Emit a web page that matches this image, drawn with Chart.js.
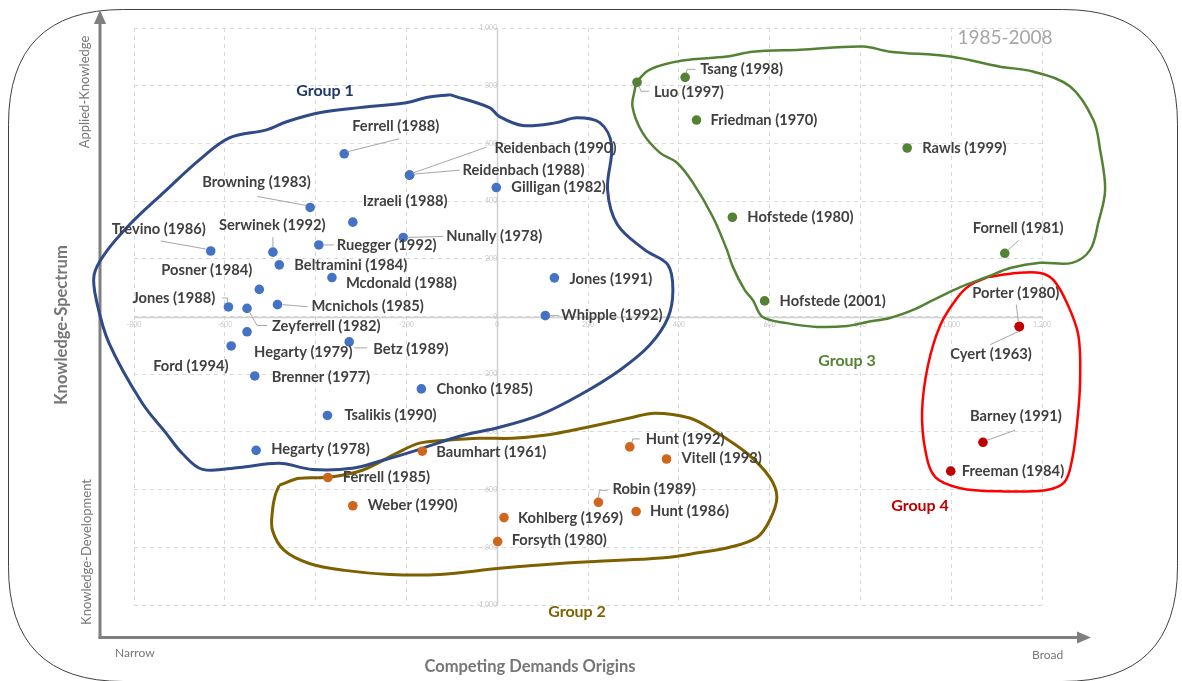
<!DOCTYPE html>
<html><head><meta charset="utf-8">
<script src="https://cdn.jsdelivr.net/npm/chart.js@4/dist/chart.umd.min.js"></script>
<style>html,body{margin:0;padding:0;background:#fff}#wrap{width:1182px;height:681px;position:relative}</style>
</head><body><div id="wrap"><canvas id="c" width="1182" height="681"></canvas></div>
<script>
// ---------- DATA ----------
const xRange = [-800, 1200];
const yRange = [-1000, 1000];
const tickStep = 200;

const g1Names = ["Ferrell (1988)","Reidenbach (1990)","Reidenbach (1988)","Gilligan (1982)","Browning (1983)","Izraeli (1988)","Trevino (1986)","Serwinek (1992)","Ruegger (1992)","Nunally (1978)","Beltramini (1984)","Mcdonald (1988)","Posner (1984)","Jones (1988)","Zeyferrell (1982)","Mcnichols (1985)","Hegarty (1979)","Ford (1994)","Betz (1989)","Brenner (1977)","Chonko (1985)","Tsalikis (1990)","Hegarty (1978)","Jones (1991)","Whipple (1992)"];
const g1X = [-337,-193,-193,-2,-412,-318,-631,-494,-393,-207,-480,-364,-524,-592,-551,-484,-551,-586,-326,-534,-167,-374,-531,126,106];
const g1Y = [564,490,490,447,378,327,227,223,248,274,179,135,94,33,28,41,-53,-102,-88,-206,-251,-343,-464,134,3];

const g2Names = ["Baumhart (1961)","Ferrell (1985)","Weber (1990)","Hunt (1992)","Vitell (1993)","Robin (1989)","Hunt (1986)","Kohlberg (1969)","Forsyth (1980)"];
const g2X = [-165,-373,-318,292,373,223,306,15,1];
const g2Y = [-467,-558,-656,-452,-494,-644,-676,-697,-780];

const g3Names = ["Tsang (1998)","Luo (1997)","Friedman (1970)","Rawls (1999)","Hofstede (1980)","Fornell (1981)","Hofstede (2001)"];
const g3X = [414,308,439,903,518,1118,589];
const g3Y = [829,812,681,584,344,219,54];

const g4Names = ["Porter (1980)","Cyert (1963)","Barney (1991)","Freeman (1984)"];
const g4X = [1150,1150,1070,999];
const g4Y = [-35,-35,-436,-536];

// hand-drawn group outlines (data units)
const g1OutlineX = [-105,-17,5,56,131,175,226,252,243,265,325,376,387,376,336,270,181,93,5,-83,-178,-253,-319,-407,-480,-568,-649,-694,-729,-782,-855,-883,-888,-866,-810,-733,-656,-590,-508,-464,-392,-304,-200,-156];
const g1OutlineY = [769,724,693,662,672,689,672,595,440,318,231,179,92,-5,-99,-186,-273,-342,-384,-415,-464,-499,-526,-530,-509,-523,-530,-474,-405,-300,-92,57,144,214,318,432,543,619,647,675,706,724,741,759];

const g2OutlineX = [-480,-436,-370,-297,-222,-171,-112,-39,34,109,166,219,292,347,424,475,550,600,616,600,572,512,446,374,270,137,5,-127,-237,-336,-414,-469,-495,-495,-489];
const g2OutlineY = [-585,-561,-557,-533,-474,-439,-429,-422,-422,-411,-394,-377,-352,-335,-352,-394,-474,-557,-627,-707,-766,-800,-818,-835,-845,-856,-873,-894,-894,-880,-856,-811,-741,-672,-620];

const g3OutlineX = [307,336,408,506,563,667,806,865,998,1108,1180,1262,1313,1328,1339,1324,1306,1266,1196,1130,1079,1020,960,916,865,815,771,704,638,585,563,545,519,506,475,431,396,358,320,298,303];
const g3OutlineY = [814,856,887,901,918,925,936,918,901,866,849,797,682,578,439,325,231,186,186,168,137,102,57,23,-5,-19,-33,-36,-23,-2,57,92,172,231,345,464,533,568,637,727,786];

const g4OutlineX = [1081,1145,1196,1225,1255,1280,1284,1278,1266,1249,1207,1108,1020,965,943,936,949,976,1013,1042];
const g4OutlineY = [137,151,151,127,47,-64,-220,-359,-498,-575,-602,-606,-595,-557,-464,-325,-168,-30,64,109];

// ---------- LABEL PLACEMENT (pixels, relative to each dot) ----------
const g1LabelPos = [[8,-28],[85,-27],[53,-5],[15,0],[-108,-25],[10,-21],[-99,-22],[-54,-27],[18,0],[43,-1],[15,0],[14,6],[-98,-19],[-96,-9],[25,18],[34,2],[7,20],[-78,20],[24,7],[17,1],[15,0],[17,0],[15,-1],[15,1],[16,0]];
const g1Leaders = [[[3,-2],[55,-15]],[[3,-2],[77,-28]],[[4,-1],[50,-5]],null,[[-4,-2],[-53,-11]],null,[[-5,-2],[-50,-10]],[[0,-5],[0,-15]],[[4,0],[15,0]],[[4,0],[40,-1]],null,null,null,[[-1,-5],[-1,-9],[-6,-9]],[[2,3],[10,17],[20,17]],[[5,0],[30,2]],null,null,[[5,6],[18,6]],null,null,null,null,null,[[4,0],[14,0]]];
const g2LabelPos = [[14,1],[15,0],[15,0],[16,-8],[15,-1],[14,-13],[14,0],[14,1],[14,-1]];
const g2Leaders = [null,null,null,[[2,-4],[3,-8],[10,-8]],null,[[0,-4],[1,-12],[9,-12]],null,null,null];
const g3LabelPos = [[15,-8],[17,10],[14,0],[15,0],[15,0],[-32,-25],[15,0]];
const g3Leaders = [[[1,-4],[2,-8],[10,-8]],[[2,4],[4,9],[12,9]],null,null,null,[[3,-3],[14,-13]],null];
const g4LabelPos = [[-47,-33],[-69,28],[-13,-26],[11,0]];
const g4Leaders = [[[-1,-5],[-3,-22]],[[-1,5],[-29,18]],[[4,-2],[32,-12]],null];

const FONT = "Lato, 'Open Sans', sans-serif";

function pts(xs, ys){ return xs.map((x,i)=>({x:x, y:ys[i]})); }
function loop(xs, ys){ const p = pts(xs, ys); p.push({x:xs[0], y:ys[0]}); return p; }

function pointSet(names, xs, ys, color, labelPos, leaders){
  return {type:'scatter', data: pts(xs, ys), backgroundColor: color, borderColor: color,
    pointRadius: 4.8, pointHoverRadius: 4.8, borderWidth: 0, _names: names, _labelPos: labelPos, _leaders: leaders, order: 0};
}
function outlineSet(xs, ys, color, w){
  return {type:'line', data: loop(xs, ys), borderColor: color, borderWidth: w, pointRadius: 0,
    tension: 0.35, fill: false, clip: false, order: 1};
}

const datasets = [
  outlineSet(g1OutlineX, g1OutlineY, '#2F4A86', 3),
  outlineSet(g2OutlineX, g2OutlineY, '#7F6000', 3),
  outlineSet(g3OutlineX, g3OutlineY, '#548235', 2.5),
  outlineSet(g4OutlineX, g4OutlineY, '#FF0000', 2.5),
  pointSet(g1Names, g1X, g1Y, '#4472C4', g1LabelPos, g1Leaders),
  pointSet(g2Names, g2X, g2Y, '#D0651C', g2LabelPos, g2Leaders),
  pointSet(g3Names, g3X, g3Y, '#548235', g3LabelPos, g3Leaders),
  pointSet(g4Names, g4X, g4Y, '#C00000', g4LabelPos, g4Leaders)
];

function rrect(ctx, x, y, w, h, r){
  ctx.beginPath();
  ctx.moveTo(x+r, y); ctx.lineTo(x+w-r, y); ctx.quadraticCurveTo(x+w, y, x+w, y+r);
  ctx.lineTo(x+w, y+h-r); ctx.quadraticCurveTo(x+w, y+h, x+w-r, y+h);
  ctx.lineTo(x+r, y+h); ctx.quadraticCurveTo(x, y+h, x, y+h-r);
  ctx.lineTo(x, y+r); ctx.quadraticCurveTo(x, y, x+r, y);
  ctx.closePath();
}

const decor = {
  id: 'decor',
  beforeDraw(chart){
    const ctx = chart.ctx;
    ctx.save();
    ctx.fillStyle = '#fff'; ctx.fillRect(0,0,chart.width,chart.height);
    ctx.strokeStyle = '#404040'; ctx.lineWidth = 1;
    rrect(ctx, 8.5, 9.5, 1169, 672, 115);
    ctx.stroke();
    ctx.restore();
  },
  beforeDatasetsDraw(chart){
    const ctx = chart.ctx;
    const xs = chart.scales.x, ys = chart.scales.y, a = chart.chartArea;
    ctx.save();
    ctx.strokeStyle = '#D0D0D0'; ctx.lineWidth = 1.5; ctx.setLineDash([]);
    const x0 = Math.round(xs.getPixelForValue(0)) + 0.5, y0 = Math.round(ys.getPixelForValue(0)) + 0.5;
    ctx.beginPath(); ctx.moveTo(x0, a.top); ctx.lineTo(x0, a.bottom); ctx.stroke();
    ctx.beginPath(); ctx.moveTo(a.left, y0); ctx.lineTo(a.right, y0); ctx.stroke();
    ctx.strokeStyle = '#7F7F7F'; ctx.fillStyle = '#7F7F7F'; ctx.lineWidth = 3;
    ctx.beginPath(); ctx.moveTo(100, 638); ctx.lineTo(100, 22); ctx.stroke();
    ctx.beginPath(); ctx.moveTo(100, 10); ctx.lineTo(94, 24); ctx.lineTo(106, 24); ctx.closePath(); ctx.fill();
    ctx.beginPath(); ctx.moveTo(98.5, 637.5); ctx.lineTo(1078, 637.5); ctx.stroke();
    ctx.beginPath(); ctx.moveTo(1091, 637.5); ctx.lineTo(1077, 631.5); ctx.lineTo(1077, 643.5); ctx.closePath(); ctx.fill();
    ctx.restore();
  },
  afterDraw(chart){
    const ctx = chart.ctx;
    ctx.save();
    ctx.fillStyle = '#767676';
    ctx.textBaseline = 'middle';
    ctx.textAlign = 'left';
    ctx.font = "12px " + FONT;
    ctx.fillText('Narrow', 115, 653);
    ctx.fillText('Broad', 1032, 655);
    ctx.textAlign = 'center';
    ctx.font = "bold 16.5px " + FONT;
    ctx.fillText('Competing Demands Origins', 530, 667);
    ctx.save(); ctx.translate(62, 325); ctx.rotate(-Math.PI/2);
    ctx.font = "bold 16.5px " + FONT; ctx.fillText('Knowledge-Spectrum', 0, 0); ctx.restore();
    ctx.save(); ctx.translate(85, 92); ctx.rotate(-Math.PI/2);
    ctx.font = "13px " + FONT; ctx.fillText('Applied-Knowledge', 0, 0); ctx.restore();
    ctx.save(); ctx.translate(87, 552); ctx.rotate(-Math.PI/2);
    ctx.font = "13px " + FONT; ctx.fillText('Knowledge-Development', 0, 0); ctx.restore();
    ctx.fillStyle = '#A6A6A6'; ctx.font = "19px " + FONT;
    ctx.fillText('1985-2008', 1005, 38);
    ctx.font = "bold 16px " + FONT;
    ctx.fillStyle = '#1F3864'; ctx.fillText('Group 1', 325, 91);
    ctx.fillStyle = '#7F6000'; ctx.fillText('Group 2', 577, 612);
    ctx.fillStyle = '#548235'; ctx.fillText('Group 3', 847, 361);
    ctx.fillStyle = '#C00000'; ctx.fillText('Group 4', 920, 506);

    chart.data.datasets.forEach((ds, i) => {
      if (!ds._names) return;
      const meta = chart.getDatasetMeta(i);
      meta.data.forEach((el, j) => {
        const lead = ds._leaders[j];
        if (lead) {
          ctx.strokeStyle = '#A6A6A6'; ctx.lineWidth = 1;
          ctx.beginPath();
          lead.forEach((p, k) => { const X = el.x + p[0], Y = el.y + p[1]; if (k===0) ctx.moveTo(X,Y); else ctx.lineTo(X,Y); });
          ctx.stroke();
        }
        const o = ds._labelPos[j];
        ctx.fillStyle = '#404040';
        ctx.font = "bold 14.7px " + FONT;
        ctx.textAlign = 'left'; ctx.textBaseline = 'middle';
        ctx.fillText(ds._names[j], el.x + o[0], el.y + o[1]);
      });
    });
    ctx.restore();
  }
};

const tickFont = {size: 7, family: FONT};
new Chart(document.getElementById('c'), {
  type: 'scatter',
  data: { datasets },
  options: {
    responsive: false, animation: false, devicePixelRatio: 1,
    layout: { padding: {left: 134, right: 140, top: 28, bottom: 76} },
    plugins: { legend: {display: false}, tooltip: {enabled: false} },
    scales: {
      x: { type: 'linear', min: xRange[0], max: xRange[1], position: {y: 0},
        ticks: { stepSize: tickStep, color: '#C8C8C8', font: tickFont, padding: 4 },
        grid: { color: '#D9D9D9', lineWidth: 1, drawTicks: false },
        border: { display: false, dash: [4, 4] } },
      y: { type: 'linear', min: yRange[0], max: yRange[1], position: {x: 0},
        ticks: { stepSize: tickStep, color: '#C8C8C8', font: tickFont, padding: 4 },
        grid: { color: '#D9D9D9', lineWidth: 1, drawTicks: false },
        border: { display: false, dash: [4, 4] } }
    }
  },
  plugins: [decor]
});
</script></body></html>
